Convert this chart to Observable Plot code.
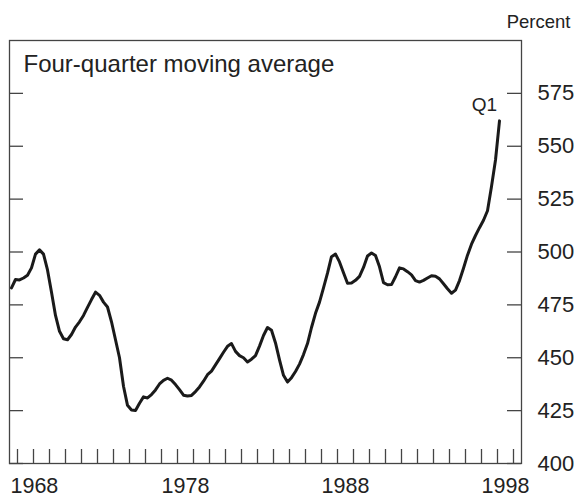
<!DOCTYPE html>
<html><head><meta charset="utf-8">
<script src="https://cdn.jsdelivr.net/npm/d3@7"></script>
<script src="https://cdn.jsdelivr.net/npm/@observablehq/plot@0.6"></script>
<style>body{margin:0;background:#fff;} svg{display:block;}</style>
</head><body><div id="chart"></div>
<script>
// Quarterly series, four-quarter moving average, starting 1967 Q3 and ending 1998 Q1
const startYear = 1967;
const startQuarter = 3;
const values = [
  483, 487, 486.8, 487.7, 489, 492.5, 499, 501, 499, 491.5,
  481, 470, 462.5, 459, 458.5, 461, 464.5, 467, 470, 473.8,
  477.5, 481, 479.5, 476.3, 474, 467, 458.5, 450, 436.5, 427.5,
  425.3, 425.1, 428.5, 431.5, 431, 432.6, 434.8, 437.6, 439.3, 440.3,
  439.4, 437.3, 434.9, 432.3, 431.9, 432.2, 434, 436.2, 438.9, 442,
  443.7, 446.6, 449.6, 452.6, 455.4, 456.7, 453, 451, 450, 448,
  449.3, 451, 455.5, 460.5, 464.3, 463, 457, 449, 441.7, 438.5,
  440.6, 443.5, 447, 451.5, 456.7, 464.3, 471, 476.3, 483, 490,
  497.8, 499, 495.3, 490.2, 485.2, 485.3, 486.6, 488.5, 492.7, 498.1,
  499.5, 498.3, 493, 485.5, 484.5, 484.6, 488.3, 492.5, 492, 490.7,
  489.2, 486.5, 485.8, 486.6, 487.7, 488.8, 488.5, 487.3, 485, 482.6,
  480.5, 482, 486.5, 492.3, 498.5, 503.7, 507.8, 511.5, 515, 519.5,
  531, 543.5, 562
];
const yTicks = [400, 425, 450, 475, 500, 525, 550, 575];
const yearTicks = [1968,1969,1970,1971,1972,1973,1974,1975,1976,1977,1978,1979,1980,1981,1982,1983,
                   1984,1985,1986,1987,1988,1989,1990,1991,1992,1993,1994,1995,1996,1997,1998,1999];
const firstLabelYear = [1968];
const otherLabelYears = [1978, 1988, 1998];
const titleText = "Four-quarter moving average";
const unitText = "Percent";
const endLabel = "Q1";

const data = values.map((v, i) => {
  const q = startQuarter - 1 + i;
  const year = startYear + Math.floor(q / 4);
  const quarter = (q % 4) + 1;
  return {t: year + (quarter - 0.5) / 4, value: v};
});
const last = data[data.length - 1];

const font = "Liberation Sans, Arial, Helvetica, sans-serif";
const innerW = 512, innerH = 423;

const chart = Plot.plot({
  width: 582,
  height: 498,
  marginTop: 40,
  marginBottom: 35,
  marginLeft: 9,
  marginRight: 61,
  style: {fontFamily: font, color: "#222", background: "#fff"},
  x: {domain: [1967.5, 1999.5], axis: null},
  y: {domain: [400, 600], axis: null},
  marks: [
    Plot.frame({stroke: "#444", strokeWidth: 1.3}),
    Plot.tickX(yearTicks, {x: d => d, insetTop: innerH - 14, stroke: "#444", strokeWidth: 1.3}),
    Plot.tickY(yTicks, {y: d => d, insetRight: innerW - 14, stroke: "#444", strokeWidth: 1.3}),
    Plot.tickY(yTicks, {y: d => d, insetLeft: innerW - 14, stroke: "#444", strokeWidth: 1.3}),
    Plot.axisY(yTicks, {anchor: "right", tickSize: 0, tickPadding: 16, fontSize: 22, fill: "#222", label: null}),
    Plot.text(firstLabelYear, {x: () => 1967.5, frameAnchor: "bottom", text: d => String(d), textAnchor: "start", lineAnchor: "top", dx: 1, dy: 14, fontSize: 21.5, fill: "#222"}),
    Plot.text(otherLabelYears, {x: d => d + 0.5, frameAnchor: "bottom", text: d => String(d), lineAnchor: "top", dy: 14, fontSize: 21.5, fill: "#222"}),
    Plot.text([titleText], {frameAnchor: "top-left", text: d => d, textAnchor: "start", lineAnchor: "top", dx: 14, dy: 14, fontSize: 24, fill: "#222"}),
    Plot.text([unitText], {frameAnchor: "top-right", text: d => d, textAnchor: "end", lineAnchor: "bottom", dx: 49, dy: -13, fontSize: 18.5, fill: "#222"}),
    Plot.line(data, {x: "t", y: "value", stroke: "#1a1a1a", strokeWidth: 3, curve: "linear"}),
    Plot.text([last], {x: "t", y: "value", text: () => endLabel, textAnchor: "middle", lineAnchor: "bottom", dx: -15, dy: -10, fontSize: 19, fill: "#222"})
  ]
});
document.getElementById("chart").appendChild(chart);
</script>
</body></html>
